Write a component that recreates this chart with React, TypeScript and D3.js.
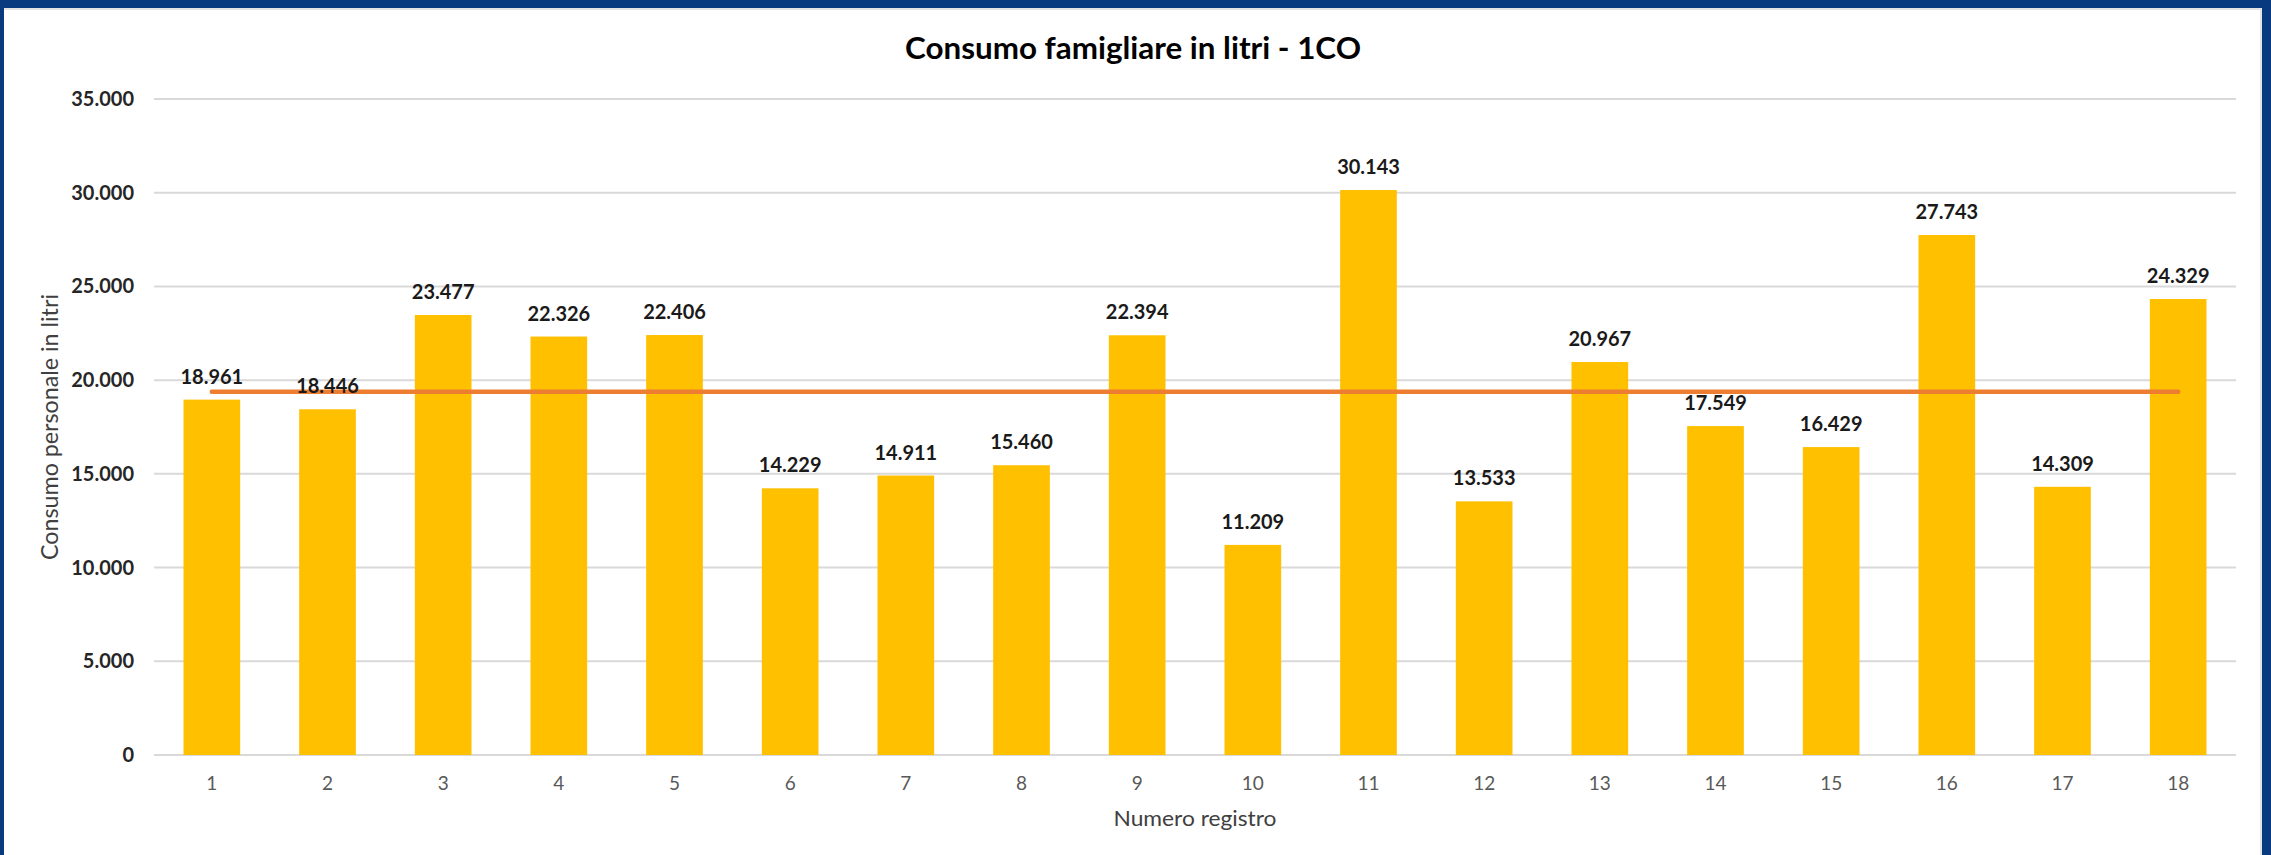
import React, { useEffect } from "react";
import * as d3 from "d3";

const categories: string[] = ["1","2","3","4","5","6","7","8","9","10","11","12","13","14","15","16","17","18"];
const consumo: number[] = [18961, 18446, 23477, 22326, 22406, 14229, 14911, 15460, 22394, 11209, 30143, 13533, 20967, 17549, 16429, 27743, 14309, 24329];
const media: number[] = [19379, 19379, 19379, 19379, 19379, 19379, 19379, 19379, 19379, 19379, 19379, 19379, 19379, 19379, 19379, 19379, 19379, 19379];
const yTicks: number[] = [0, 5000, 10000, 15000, 20000, 25000, 30000, 35000];

const title = "Consumo famigliare in litri - 1CO";
const xTitle = "Numero registro";
const yTitle = "Consumo personale in litri";

const W = 2271;
const H = 855;
const FONT = "Lato, 'Open Sans', 'Noto Sans', sans-serif";

const locale = d3.formatLocale({ decimal: ",", thousands: ".", grouping: [3], currency: ["", "€"] });
const fmt = locale.format(",d");

export default function App() {
  useEffect(() => {
    document.body.style.margin = "0";
    document.body.style.overflow = "hidden";
  }, []);

  const x = d3.scaleBand<string>().domain(categories).range([154, 2236]).paddingInner(0.51).paddingOuter(0.255);
  const y = d3.scaleLinear().domain([0, 35000]).range([755, 99]);

  const lineData = categories.map((c, i) => ({ c, v: media[i] }));
  const line = d3
    .line<{ c: string; v: number }>()
    .x((d) => (x(d.c) as number) + x.bandwidth() / 2)
    .y((d) => y(d.v));

  const [x0, x1] = x.range();
  const cx = (x0 + x1) / 2;
  const [yb, yt] = y.range();

  return (
    <svg width={W} height={H} style={{ display: "block", position: "absolute", left: 0, top: 0 }} fontFamily={FONT}>
      <rect x={0} y={0} width={W} height={H} fill="#083A80" />
      <rect x={4} y={8} width={2258} height={H - 8} fill="#ffffff" />
      <line x1={4} x2={2262} y1={9} y2={9} stroke="#e4e4e4" strokeWidth={2} />
      <line x1={2261} x2={2261} y1={8} y2={H} stroke="#e4e4e4" strokeWidth={2} />

      <text x={1133} y={59} textAnchor="middle" fontSize={30} fontWeight="bold" fill="#000" textLength={456} lengthAdjust="spacingAndGlyphs">
        {title}
      </text>

      {yTicks.map((t) => (
        <g key={t}>
          <line x1={x0} x2={x1} y1={y(t)} y2={y(t)} stroke="#d9d9d9" strokeWidth={2} />
          <text x={134} y={y(t)} dy="0.35em" textAnchor="end" fontSize={20} fontWeight="bold" fill="#262626">
            {fmt(t)}
          </text>
        </g>
      ))}

      {categories.map((c, i) => (
        <rect key={c} x={x(c)} y={y(consumo[i])} width={x.bandwidth()} height={yb - y(consumo[i])} fill="#FFC000" />
      ))}

      <path d={line(lineData) || ""} fill="none" stroke="#ED7D31" strokeWidth={4.5} strokeLinecap="round" />

      {categories.map((c, i) => (
        <text
          key={"l" + c}
          x={(x(c) as number) + x.bandwidth() / 2}
          y={y(consumo[i]) - 16}
          textAnchor="middle"
          fontSize={20}
          fontWeight="bold"
          fill="#1a1a1a"
        >
          {fmt(consumo[i])}
        </text>
      ))}

      {categories.map((c) => (
        <text key={"t" + c} x={(x(c) as number) + x.bandwidth() / 2} y={790} textAnchor="middle" fontSize={19} fill="#595959">
          {c}
        </text>
      ))}

      <text x={cx} y={826} textAnchor="middle" fontSize={22} fill="#404040" textLength={163} lengthAdjust="spacingAndGlyphs">
        {xTitle}
      </text>
      <text
        transform={`translate(58, ${(yb + yt) / 2}) rotate(-90)`}
        textAnchor="middle"
        fontSize={23}
        fill="#404040"
        textLength={266}
        lengthAdjust="spacingAndGlyphs"
      >
        {yTitle}
      </text>
    </svg>
  );
}
